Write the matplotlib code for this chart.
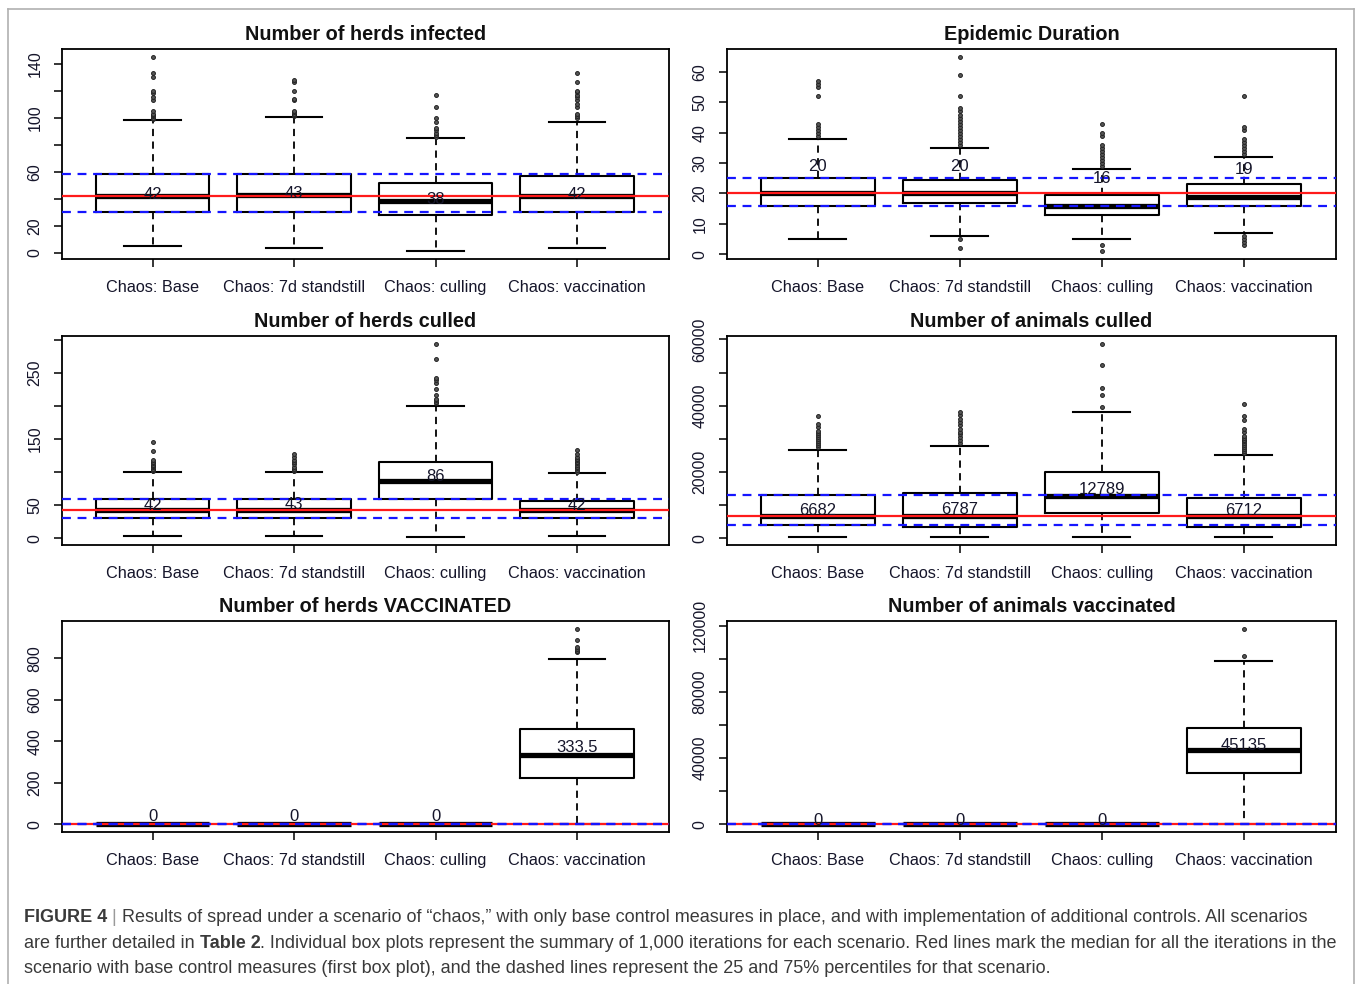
import matplotlib
matplotlib.use('Agg')
import matplotlib.pyplot as plt
from matplotlib.lines import Line2D
from matplotlib.text import Annotation
import numpy as np

plt.rcParams['font.family'] = ['Liberation Sans', 'DejaVu Sans']

scenarios = ['Chaos: Base', 'Chaos: 7d standstill', 'Chaos: culling', 'Chaos: vaccination']

# Number of herds infected
inf_med = [42, 43, 38, 42]
inf_q1 = [30.5, 30.5, 28, 30.5]
inf_q3 = [58, 58, 51.5, 57]
inf_lo = [4.7, 3.7, 1.2, 3.7]
inf_hi = [98, 100.5, 85, 97]
inf_fliers = [[99, 100, 101, 102, 103, 105, 113, 115, 118, 120, 130, 133, 145],
              [101, 102, 103, 104, 105, 113, 114, 120, 126, 128],
              [86, 87, 89, 91, 92, 97, 99.5, 108, 117],
              [99.5, 101, 103, 108, 110, 113, 115, 117, 119, 120, 126, 133]]

# Epidemic duration
dur_med = [20, 20, 16, 19]
dur_q1 = [16, 17, 13, 16]
dur_q3 = [25, 24.5, 19.5, 23]
dur_lo = [5, 6, 5, 7]
dur_hi = [38, 35, 28, 32]
dur_fliers = [[39, 40, 41, 42, 43, 52, 55, 56, 57],
              [2, 5, 36, 37, 38, 39, 40, 41, 42, 43, 44, 45, 46, 47, 48, 52, 59, 65],
              [1, 3, 29, 30, 31, 32, 33, 34, 35, 36, 39, 40, 43],
              [3, 4, 5, 6, 33, 34, 35, 36, 37, 38, 41, 42, 52]]

# Number of herds culled
cul_med = [42, 43, 86, 42]
cul_q1 = [30, 30, 59, 30]
cul_q3 = [59, 59, 116, 56.5]
cul_lo = [4, 4, 1.5, 4]
cul_hi = [100, 100, 200, 98]
cul_fliers = [[101, 103, 105, 107, 109, 111, 113, 115, 118, 132, 146],
              [101, 103, 105, 108, 112, 115, 119, 123, 127],
              [204, 206, 209, 211, 217, 226, 234, 239, 242, 271, 294],
              [100, 103, 106, 108, 111, 113, 116, 118, 120, 123, 127, 133]]

# Number of animals culled
acul_med = [6682, 6787, 12789, 6712]
acul_q1 = [4130, 3420, 7750, 3420]
acul_q3 = [13190, 13690, 19930, 12180]
acul_lo = [300, 300, 300, 300]
acul_hi = [26780, 27790, 38160, 25070]
acul_fliers = [[27600, 28200, 28800, 29400, 30000, 30600, 31200, 31800, 32400, 33600, 34600, 36900],
               [28600, 29600, 30600, 31600, 32100, 33100, 34100, 35100, 36100, 37200, 38100],
               [39500, 43200, 45200, 52300, 58700],
               [25600, 26200, 26800, 27400, 28000, 28600, 29200, 29800, 30400, 31000, 32000,
                33100, 35600, 36900, 40500]]

# Number of herds vaccinated
hvac_med = [0, 0, 0, 333.5]
hvac_q1 = [0, 0, 0, 224]
hvac_q3 = [0, 0, 0, 458]
hvac_lo = [0, 0, 0, 0]
hvac_hi = [0, 0, 0, 795]
hvac_fliers = [[], [], [], [829, 837, 845, 853, 890, 942]]

# Number of animals vaccinated
avac_med = [0, 0, 0, 45135]
avac_q1 = [0, 0, 0, 30810]
avac_q3 = [0, 0, 0, 58380]
avac_lo = [0, 0, 0, 0]
avac_hi = [0, 0, 0, 98920]
avac_fliers = [[], [], [], [101560, 118180]]

W, H = 1356, 984
fig = plt.figure(figsize=(W / 100, H / 100), dpi=100)

TXT = '#15152a'


def panel(px, title, med, q1, q3, lo, hi, fliers, step, top, shown, off_px):
    x0, y0, x1, y1 = px
    ax = fig.add_axes([x0 / W, 1 - y1 / H, (x1 - x0) / W, (y1 - y0) / H])
    stats = [dict(med=m, q1=a, q3=b, whislo=l, whishi=h, fliers=f)
             for m, a, b, l, h, f in zip(med, q1, q3, lo, hi, fliers)]
    ax.bxp(stats, positions=[1, 2, 3, 4], widths=0.8, capwidths=0.4,
           boxprops=dict(color='black', lw=1.5),
           medianprops=dict(color='black', lw=3.8, solid_capstyle='butt'),
           whiskerprops=dict(color='black', lw=1.3, linestyle=(0, (4, 3))),
           capprops=dict(color='black', lw=1.5),
           flierprops=dict(marker='o', markersize=2.8, markerfacecolor='#555555',
                           markeredgecolor='#222222', markeredgewidth=0.7))
    allv = list(lo) + list(hi) + [v for f in fliers for v in f]
    vmin, vmax = min(allv), max(allv)
    pad = 0.04 * (vmax - vmin)
    ax.set_ylim(vmin - pad, vmax + pad)
    ax.set_xlim(0.36, 4.65)
    # reference lines from the base scenario
    ax.axhline(med[0], color='#ff1a1a', lw=1.6, zorder=5)
    ax.axhline(q1[0], color='#1515ff', lw=1.6, linestyle=(0, (4, 3)), zorder=6)
    ax.axhline(q3[0], color='#1515ff', lw=1.6, linestyle=(0, (4, 3)), zorder=6)
    for i, m in enumerate(med):
        ax.annotate('{:g}'.format(m), (i + 1, m), xytext=(0, off_px * 0.72),
                    textcoords='offset points', ha='center', va='center',
                    fontsize=12, color=TXT, zorder=7)
    ticks = np.arange(0, top + step / 2, step)
    ax.set_yticks(ticks)
    ax.set_yticklabels(['{:g}'.format(t) if t in shown else '' for t in ticks],
                       rotation=90, va='center', fontsize=11.5, color=TXT)
    ax.set_xticks([1, 2, 3, 4])
    ax.set_xticklabels(scenarios, fontsize=11.7, color=TXT)
    ax.tick_params(axis='both', length=6, width=1.1)
    ax.tick_params(axis='x', pad=9)
    ax.tick_params(axis='y', pad=8)
    for s in ax.spines.values():
        s.set_linewidth(1.3)
    ax.set_title(title, fontsize=14.3, fontweight='bold', pad=6.5, color='#111111')
    return ax


panel((62, 49, 669, 259), 'Number of herds infected', inf_med, inf_q1, inf_q3,
      inf_lo, inf_hi, inf_fliers, 20, 140, [0, 20, 60, 100, 140], 1.5)
panel((727, 49, 1336, 259), 'Epidemic Duration', dur_med, dur_q1, dur_q3,
      dur_lo, dur_hi, dur_fliers, 10, 60, [0, 10, 20, 30, 40, 50, 60], 27)
panel((62, 336, 669, 545), 'Number of herds culled', cul_med, cul_q1, cul_q3,
      cul_lo, cul_hi, cul_fliers, 50, 300, [0, 50, 150, 250], 5)
panel((727, 336, 1336, 545), 'Number of animals culled', acul_med, acul_q1, acul_q3,
      acul_lo, acul_hi, acul_fliers, 10000, 60000, [0, 20000, 40000, 60000], 6)
panel((62, 621, 669, 832), 'Number of herds VACCINATED', hvac_med, hvac_q1, hvac_q3,
      hvac_lo, hvac_hi, hvac_fliers, 200, 800, [0, 200, 400, 600, 800], 8)
panel((727, 621, 1336, 832), 'Number of animals vaccinated', avac_med, avac_q1, avac_q3,
      avac_lo, avac_hi, avac_fliers, 20000, 120000, [0, 40000, 80000, 120000], 4)

# light frame around the figure
frame = dict(color='#b0b0b0', lw=1.2, transform=fig.transFigure)
fig.add_artist(Line2D([8 / W, 8 / W], [0, 1 - 9 / H], **frame))
fig.add_artist(Line2D([8 / W, 1354 / W], [1 - 9 / H, 1 - 9 / H], **frame))
fig.add_artist(Line2D([1354 / W, 1354 / W], [0, 1 - 9 / H], **frame))

# caption, with bold runs chained after the previous piece
CAP = '#3a3a3a'
lines = [
    [('FIGURE 4', 'bold', CAP), (' | ', 'normal', '#9a9a9a'),
     ('Results of spread under a scenario of \u201cchaos,\u201d with only base control measures in place, '
      'and with implementation of additional controls. All scenarios', 'normal', CAP)],
    [('are further detailed in ', 'normal', CAP), ('Table 2', 'bold', CAP),
     ('. Individual box plots represent the summary of 1,000 iterations for each scenario. '
      'Red lines mark the median for all the iterations in the', 'normal', CAP)],
    [('scenario with base control measures (first box plot), and the dashed lines represent '
      'the 25 and 75% percentiles for that scenario.', 'normal', CAP)],
]
for k, parts in enumerate(lines):
    y = 1 - (922 + 25.5 * k) / H
    prev = None
    for s, wt, c in parts:
        if prev is None:
            prev = fig.text(24 / W, y, s, fontsize=13, fontweight=wt, color=c,
                            va='baseline', ha='left')
        else:
            nxt = Annotation(s, xy=(1, 0), xycoords=prev, xytext=(0, 0),
                             textcoords='offset points', fontsize=13, fontweight=wt,
                             color=c, va='bottom', ha='left')
            fig.add_artist(nxt)
            prev = nxt

fig.savefig('out.png', dpi=100)
